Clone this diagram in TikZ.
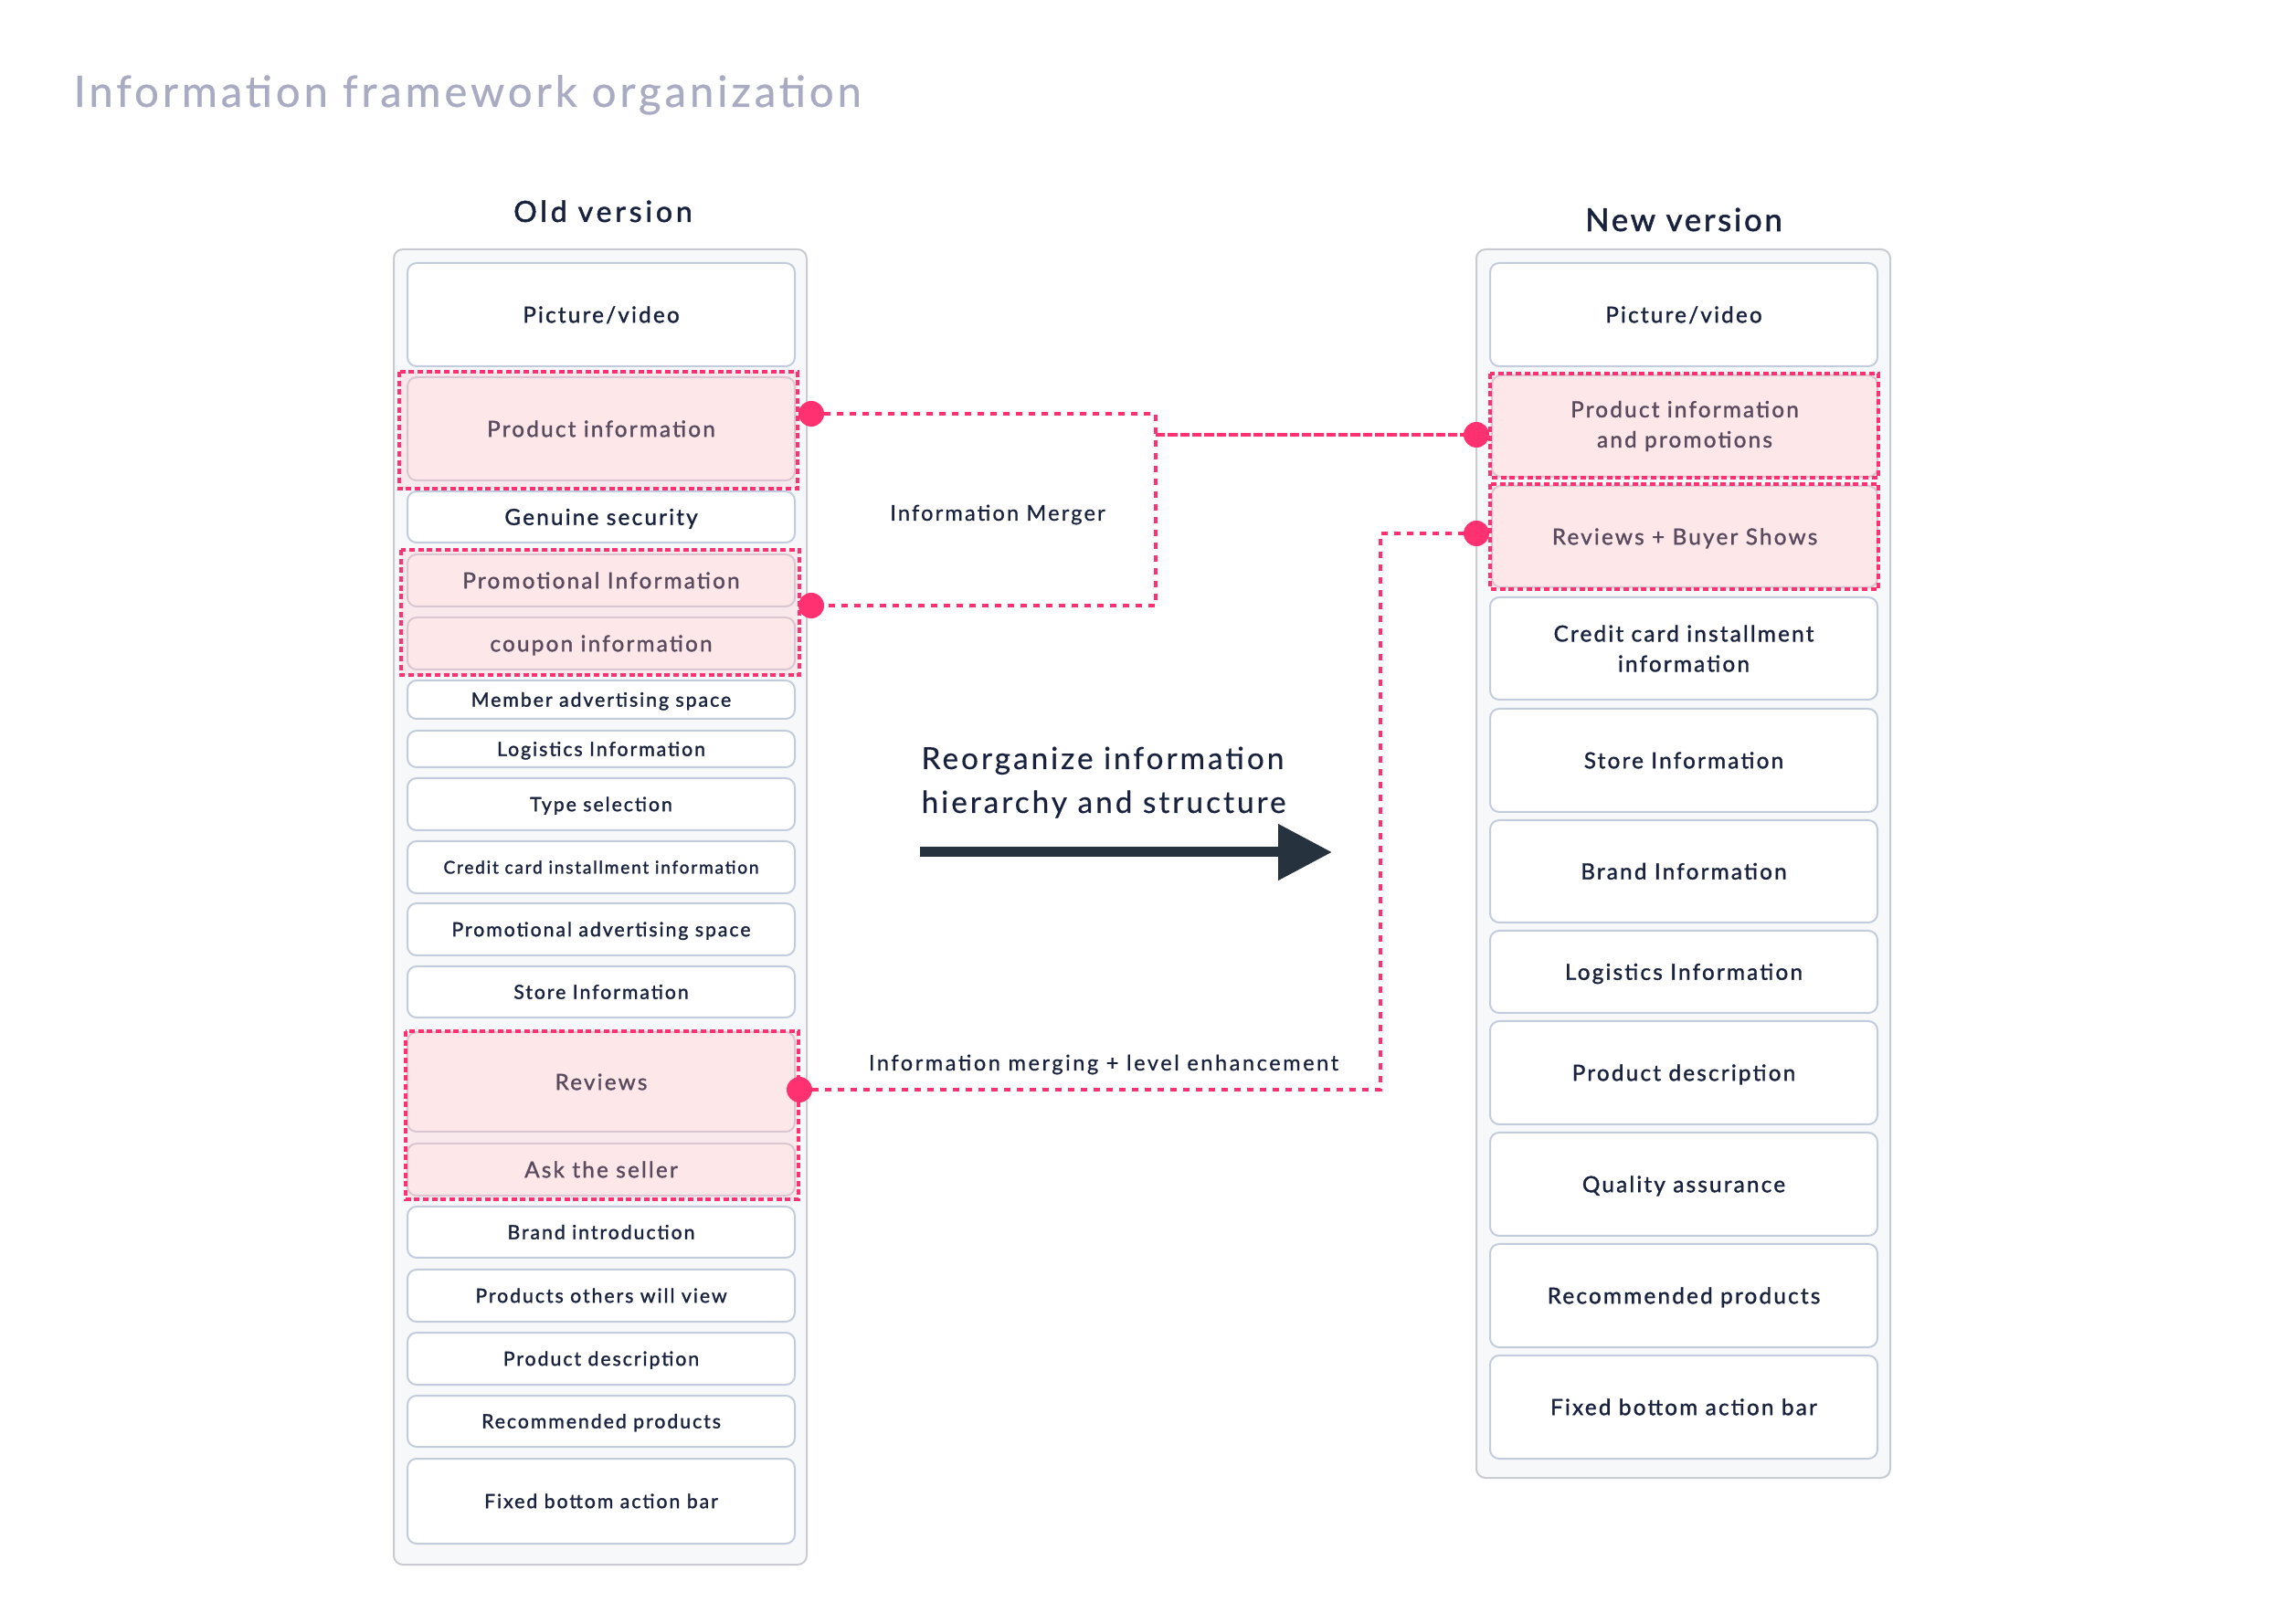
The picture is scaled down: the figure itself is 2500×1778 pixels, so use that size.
\documentclass[tikz,border=0pt]{standalone}
\usepackage{fontspec}
\usetikzlibrary{arrows.meta}
\newfontfamily\itemfam{Lato}[LetterSpace=9, FakeBold=1.3]
\newfontfamily\titlefam{Lato}[LetterSpace=8.2, FakeBold=0.5]
\newfontfamily\oldfam{Lato}[LetterSpace=12, FakeBold=1.6]
\newfontfamily\headfam{Lato}[LetterSpace=8, FakeBold=1.6]
\newfontfamily\reorgfam{Lato}[LetterSpace=9, FakeBold=0.3]
\newfontfamily\labfam{Lato}[LetterSpace=9, FakeBold=0.5]
\newfontfamily\labfamb{Lato}[LetterSpace=10.5, FakeBold=0.5]
\definecolor{textdark}{HTML}{18213D}
\definecolor{pinktext}{HTML}{5A4A5E}
\definecolor{titlec}{HTML}{A9ABC2}
\definecolor{hot}{HTML}{FF3170}
\definecolor{itemborder}{HTML}{C3CCDD}
\definecolor{pinkfill}{HTML}{FDE7E9}
\definecolor{pinkborder}{HTML}{D9C6D0}
\definecolor{groupbg}{HTML}{FAE9EC}
\definecolor{panelfill}{HTML}{F7F8FA}
\definecolor{panelborder}{HTML}{C9CBD1}
\definecolor{arrowc}{HTML}{27323F}
\newcommand\bx[7]{\node[#6, minimum width={(#4-#2)*0.3pt}, minimum height={(#5-#3)*0.3pt}] (#1) at ({(#2+#4)/2},{(#3+#5)/2}) {#7};}
\begin{document}
\begin{tikzpicture}[x=0.3pt,y=-0.3pt,
  panel/.style={draw=panelborder, line width=0.6pt, fill=panelfill, rounded corners=3pt, inner sep=0pt, outer sep=0pt},
  groupfill/.style={fill=groupbg, inner sep=0pt, outer sep=0pt},
  groupline/.style={draw=hot, line width=1.2pt, dash pattern=on 1.8pt off 1.1pt},
  itemM/.style={draw=itemborder, line width=0.6pt, fill=white, rounded corners=3pt, inner sep=0pt, outer sep=0pt, align=center, text=textdark, font=\itemfam\fontsize{7.3}{9.9}\selectfont},
  itemB/.style={itemM, text height=5.25pt, text depth=0pt},
  itemS/.style={itemM, font=\itemfam\fontsize{6.4}{8.6}\selectfont, text height=4.6pt, text depth=0pt},
  itemT/.style={itemM, font=\itemfam\fontsize{5.76}{8}\selectfont, text height=4.15pt, text depth=0pt},
  pinkB/.style={itemB, fill=pinkfill, draw=pinkborder, text=pinktext},
  pinkM/.style={itemM, fill=pinkfill, draw=pinkborder, text=pinktext},
  dot/.style={circle, fill=hot, minimum size=8.4pt, inner sep=0pt, outer sep=0pt},
  conn/.style={draw=hot, line width=1.35pt, dash pattern=on 2.1pt off 2.1pt},
  conn2/.style={draw=hot, line width=1.35pt, dash pattern=on 3.1pt off 0.9pt},
  bigarrow/.style={draw=arrowc, line width=3.3pt, -{Triangle[length=17.7pt,width=17.7pt]}},
  titlestyle/.style={inner sep=0pt, text=titlec, font=\titlefam\fontsize{14.2}{17}\selectfont},
  headstyle/.style={inner sep=0pt, text=textdark, anchor=base},
  labelstyle/.style={inner sep=0pt, text=textdark, anchor=base, font=\labfam\fontsize{7.1}{9}\selectfont}
]
\useasboundingbox[fill=white] (0,0) rectangle (2500,1778);
% titles
\node[titlestyle, anchor=base west] (title) at (80,117) {Information framework organization};
\node[headstyle, font=\oldfam\fontsize{9.6}{11}\selectfont] (oldh) at (660,243) {Old version};
\node[headstyle, font=\headfam\fontsize{10.4}{12}\selectfont] (newh) at (1843,253) {New version};
% panels
\bx{pL}{431}{273}{883}{1713}{panel}{}
\bx{pR}{1616}{273}{2069}{1618}{panel}{}
% group backgrounds
\bx{gL1}{437}{407}{873}{535}{groupfill}{}
\bx{gL2}{439}{602}{875}{739}{groupfill}{}
\bx{gL3}{444}{1129}{874}{1313}{groupfill}{}
\bx{gR1}{1631}{409}{2056}{523}{groupfill}{}
\bx{gR2}{1631}{530}{2056}{645}{groupfill}{}
% old version items
\bx{L1}{446}{288}{870}{401}{itemB}{Picture/video}
\bx{L2}{446}{413}{870}{526}{pinkB}{Product information}
\bx{L3}{446}{538}{870}{594}{itemB}{Genuine security}
\bx{L4}{446}{607}{870}{664}{pinkB}{Promotional Information}
\bx{L5}{446}{676}{870}{733}{pinkB}{coupon information}
\bx{L6}{446}{745}{870}{787}{itemS}{Member advertising space}
\bx{L7}{446}{800}{870}{840}{itemS}{Logistics Information}
\bx{L8}{446}{852}{870}{909}{itemS}{Type selection}
\bx{L9}{446}{921}{870}{978}{itemT}{Credit card installment information}
\bx{L10}{446}{989}{870}{1046}{itemS}{Promotional advertising space}
\bx{L11}{446}{1058}{870}{1114}{itemS}{Store Information}
\bx{L12}{446}{1130}{870}{1239}{pinkB}{Reviews}
\bx{L13}{446}{1252}{870}{1309}{pinkB}{Ask the seller}
\bx{L14}{446}{1321}{870}{1377}{itemS}{Brand introduction}
\bx{L15}{446}{1390}{870}{1447}{itemS}{Products others will view}
\bx{L16}{446}{1459}{870}{1516}{itemS}{Product description}
\bx{L17}{446}{1528}{870}{1584}{itemS}{Recommended products}
\bx{L18}{446}{1597}{870}{1690}{itemS}{Fixed bottom action bar}
% new version items
\bx{R1}{1631}{288}{2055}{401}{itemB}{Picture/video}
\bx{R2}{1633}{411}{2055}{522}{pinkM}{Product information\\and promotions}
\bx{R3}{1633}{532}{2055}{643}{pinkB}{Reviews + Buyer Shows}
\bx{R4}{1631}{654}{2055}{766}{itemM}{Credit card installment\\information}
\bx{R5}{1631}{776}{2055}{889}{itemB}{Store Information}
\bx{R6}{1631}{898}{2055}{1010}{itemB}{Brand Information}
\bx{R7}{1631}{1019}{2055}{1109}{itemB}{Logistics Information}
\bx{R8}{1631}{1118}{2055}{1231}{itemB}{Product description}
\bx{R9}{1631}{1240}{2055}{1353}{itemB}{Quality assurance}
\bx{R10}{1631}{1362}{2055}{1475}{itemB}{Recommended products}
\bx{R11}{1631}{1484}{2055}{1597}{itemB}{Fixed bottom action bar}
% group outlines
\foreach \g in {gL1,gL2,gL3,gR1,gR2} \draw[groupline] (\g.north west) rectangle (\g.south east);
% dots
\node[dot] (dL1) at (888,453) {};
\node[dot] (dL2) at (888,663) {};
\node[dot] (dL3) at (875,1193) {};
\node[dot] (dR1) at (1616,476) {};
\node[dot] (dR2) at (1616,584) {};
% connectors
\coordinate (m1) at (1265,453);
\coordinate (m2) at (1265,663);
\coordinate (m3) at (1265,476);
\coordinate (c1) at (1511,1193);
\coordinate (c2) at (1511,584);
\draw[conn] (dL1) -- (m1) -- (m2) -- (dL2);
\draw[conn2] (m3) -- (dR1);
\draw[conn] (dL3) -- (c1) -- (c2) -- (dR2);
% labels
\node[labelstyle] (merge) at (1092,570) {Information Merger};
\node[labelstyle, font=\labfamb\fontsize{7.1}{9}\selectfont] (merge2) at (1208,1172) {Information merging + level enhancement};
\node[inner sep=0pt, text=textdark, anchor=base west, align=left, font=\reorgfam\fontsize{10}{14.4}\selectfont] (reorg) at (1008,890) {Reorganize information\\hierarchy and structure};
% big arrow
\coordinate (a1) at (1007,933);
\coordinate (a2) at (1458,933);
\draw[bigarrow] (a1) -- (a2);
\end{tikzpicture}
\end{document}
